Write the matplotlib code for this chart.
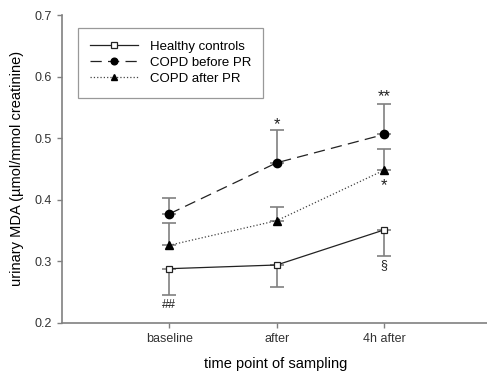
import matplotlib.pyplot as plt
import numpy as np

plt.rcParams['font.family'] = ['Liberation Sans', 'DejaVu Sans']

categories = ['baseline', 'after', '4h after']
healthy = [0.288, 0.294, 0.351]
healthy_err_low = [0.042, 0.036, 0.043]
before_pr = [0.377, 0.460, 0.506]
before_err_up = [0.025, 0.054, 0.049]
after_pr = [0.326, 0.366, 0.448]
after_err_up = [0.036, 0.022, 0.034]

# significance marks: (x index, y value, text)
marks = [(0, 0.229, '##'), (1, 0.522, '*'), (2, 0.567, '**'),
         (2, 0.423, '*'), (2, 0.294, '§')]

x = np.arange(1, len(categories) + 1)
zeros = np.zeros(len(x))
gray = '#808080'

fig = plt.figure(figsize=(4.87, 3.75), dpi=100)
ax = fig.add_axes([0.127, 0.139, 0.878, 0.821])

ax.errorbar(x, healthy, yerr=[healthy_err_low, zeros], fmt='none',
            ecolor=gray, elinewidth=1.2, capsize=5, capthick=1.2, zorder=1)
ax.errorbar(x, before_pr, yerr=[zeros, before_err_up], fmt='none',
            ecolor=gray, elinewidth=1.2, capsize=5, capthick=1.2, zorder=1)
ax.errorbar(x, after_pr, yerr=[zeros, after_err_up], fmt='none',
            ecolor=gray, elinewidth=1.2, capsize=5, capthick=1.2, zorder=1)

ax.plot(x, healthy, '-', color='#222222', lw=0.9, marker='s', ms=5,
        mfc='white', mec='#222222', mew=0.9, label='Healthy controls', zorder=3)
ax.plot(x, before_pr, color='#222222', lw=0.9, dashes=(9, 5), marker='o',
        ms=6, mfc='black', mec='black', label='COPD before PR', zorder=3)
ax.plot(x, after_pr, ':', color='#444444', lw=0.9, marker='^', ms=6,
        mfc='black', mec='black', label='COPD after PR', zorder=3)

for i, yv, txt in marks:
    ax.text(x[i], yv, txt, ha='center', va='center',
            fontsize=12 if '*' in txt else 9, color='#222222')

ax.set_xlim(0, 3.98)
ax.set_ylim(0.2, 0.7)
ax.set_xticks(x)
ax.set_xticklabels(categories)
ax.set_yticks([0.2, 0.3, 0.4, 0.5, 0.6, 0.7])
ax.tick_params(labelsize=9, colors=gray, labelcolor='#333333', length=3.5, width=1)

for s in ['top', 'right']:
    ax.spines[s].set_visible(False)
for s in ['left', 'bottom']:
    ax.spines[s].set_color(gray)
    ax.spines[s].set_linewidth(1.2)

ax.set_xlabel('time point of sampling', fontsize=10.5, labelpad=9)
ax.set_ylabel('urinary MDA (\u00b5mol/mmol creatinine)', fontsize=10.5, labelpad=8)

leg = ax.legend(loc='upper left', bbox_to_anchor=(0.037, 0.958), fontsize=9.5,
                fancybox=False, edgecolor=gray, handlelength=3.6,
                labelspacing=0.3, borderpad=0.95, handletextpad=0.9,
                borderaxespad=0, markerscale=0.8)
leg.get_frame().set_linewidth(0.9)

fig.savefig('out.png', dpi=100)
